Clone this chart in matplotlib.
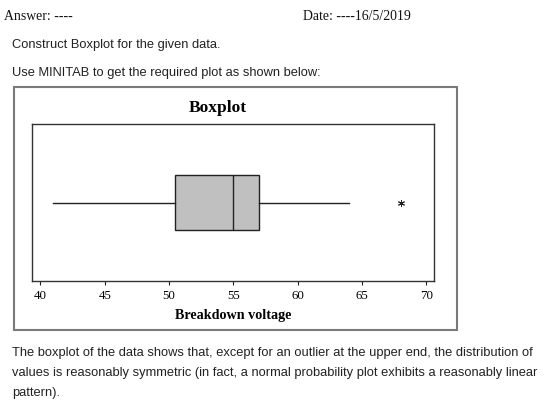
import matplotlib.pyplot as plt
from matplotlib.patches import Rectangle

W, H = 560, 406

# five-number summary
whisker_low = 41.0
q1 = 50.5
median = 55.0
q3 = 57.0
whisker_high = 64.0
outliers = [68.0]
tick_values = [40, 45, 50, 55, 60, 65, 70]

header_left = "Answer: ----"
header_right = "Date: ----16/5/2019"
intro_lines = [
    "Construct Boxplot for the given data.",
    "Use MINITAB to get the required plot as shown below:",
]
closing_lines = [
    "The boxplot of the data shows that, except for an outlier at the upper end, the distribution of",
    "values is reasonably symmetric (in fact, a normal probability plot exhibits a reasonably linear",
    "pattern).",
]

SERIF = "Liberation Serif"
SANS = "Liberation Sans"


def fx(px):
    return px / W


def fy(py):
    return 1 - py / H


fig = plt.figure(figsize=(W / 100, H / 100), dpi=100)
fig.patch.set_facecolor("white")

# header
fig.text(fx(4), fy(17), header_left, family=SERIF, fontsize=9.9, va="center", color="#111111")
fig.text(fx(303), fy(17), header_right, family=SERIF, fontsize=9.9, va="center", color="#111111")

for i, line in enumerate(intro_lines):
    fig.text(fx(12), fy(45 + 28 * i), line, family=SANS, fontsize=9.3, va="center", color="#222222")

# outer frame of the pasted figure
fig.patches.append(Rectangle((fx(14), fy(331)), fx(457) - fx(14), fy(88) - fy(331),
                             transform=fig.transFigure, fill=False, edgecolor="#7a7a7a", lw=1.5))

fig.text(fx(218), fy(108), "Boxplot", family=SERIF, fontsize=12.5, fontweight="bold",
         ha="center", va="center")

ax = fig.add_axes([fx(32), fy(282), fx(434) - fx(32), fy(125) - fy(282)])
stats = [{
    "whislo": whisker_low, "q1": q1, "med": median, "q3": q3,
    "whishi": whisker_high, "fliers": outliers,
}]
ax.bxp(stats, positions=[0], vert=False, widths=0.69, patch_artist=True, showcaps=False,
       boxprops=dict(facecolor="#c0c0c0", edgecolor="#222222", lw=1.0),
       medianprops=dict(color="#222222", lw=1.0),
       whiskerprops=dict(color="#222222", lw=1.0),
       flierprops=dict(marker=(6, 2, 0), markersize=5, markeredgecolor="#222222",
                       markeredgewidth=0.7))
ax.set_ylim(-1, 1)
ax.set_xlim(39.35, 70.59)
ax.set_yticks([])
ax.set_xticks(tick_values)
ax.set_xticklabels([str(t) for t in tick_values], family=SERIF, fontsize=9.3)
ax.tick_params(axis="x", direction="out", length=3, width=0.8, pad=2.5, color="#222222")
for s in ax.spines.values():
    s.set_linewidth(1.0)
    s.set_color("#333333")
ax.set_xlabel("Breakdown voltage", family=SERIF, fontsize=10.2, fontweight="bold", labelpad=5)

for i, line in enumerate(closing_lines):
    fig.text(fx(12), fy(353 + 20 * i), line, family=SANS, fontsize=9.3, va="center", color="#222222")

fig.savefig("out.png", dpi=100)
